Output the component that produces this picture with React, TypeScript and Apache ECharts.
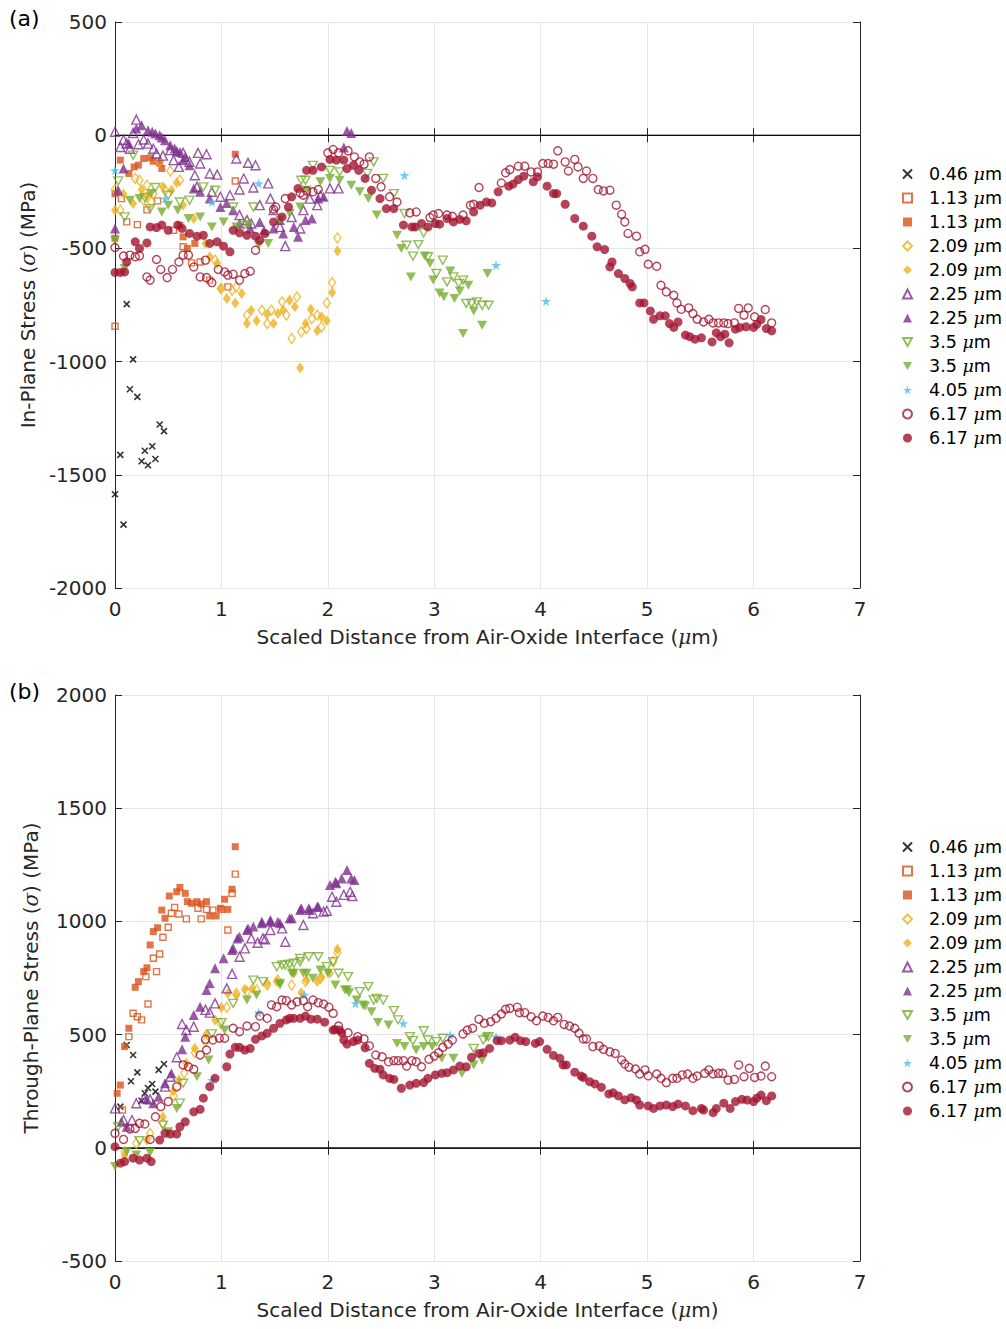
import React, { useEffect, useRef } from "react";
import * as echarts from "echarts";

// ---------- Panel (a): in-plane stress ----------
const a046 = [[0,-1586],[0.08,-1720],[0.05,-1412],[0.11,-746],[0.14,-1122],[0.17,-990],[0.21,-1156],[0.25,-1440],[0.28,-1394],[0.31,-1458],[0.35,-1374],[0.38,-1430],[0.42,-1278],[0.46,-1307]];
const a113o = [[0,-844],[0.06,-280],[0.11,-383],[0.21,-395],[0.3,-330],[0.4,-290],[0.55,-420],[0.64,-493],[0.72,-564],[0.8,-560],[0.89,-640],[1.06,-670],[1.13,-202]];
const a113f = [[0,-258],[0,-455],[0.05,-110],[0.13,-169],[0.18,-140],[0.22,-132],[0.27,-103],[0.33,-100],[0.36,-115],[0.42,-124],[0.44,-147],[0.61,-398],[0.64,-449],[0.68,-500],[0.75,-478],[1.13,-84]];
const a209o = [[0,-239],[0.05,-331],[0.19,-191],[0.23,-199],[0.27,-287],[0.3,-221],[0.34,-295],[0.36,-258],[0.42,-118],[0.47,-243],[0.52,-158],[0.61,-199],[0.94,-552],[1.0,-677],[1.1,-685],[1.14,-670],[1.24,-795],[1.38,-773],[1.43,-832],[1.47,-773],[1.57,-736],[1.61,-795],[1.66,-898],[1.71,-714],[1.75,-869],[1.8,-854],[1.85,-810],[1.9,-795],[1.94,-847],[1.99,-741],[2.04,-651],[2.09,-454]];
const a209f = [[0,-331],[0.08,-260],[0.17,-302],[0.25,-240],[0.3,-270],[0.45,-228],[0.53,-243],[0.58,-210],[0.64,-309],[0.74,-368],[0.85,-478],[0.89,-537],[0.96,-567],[0.99,-677],[1.05,-721],[1.13,-741],[1.19,-699],[1.24,-832],[1.28,-773],[1.33,-820],[1.43,-791],[1.49,-832],[1.53,-788],[1.58,-773],[1.64,-729],[1.69,-758],[1.74,-1028],[1.79,-832],[1.84,-769],[1.9,-864],[1.94,-802],[1.99,-820],[2.04,-695],[2.09,-511]];
const a225o = [[0,15],[0.05,-52],[0.08,-20],[0.11,-37],[0.14,-60],[0.17,10],[0.2,69],[0.22,-40],[0.27,-19],[0.31,-37],[0.36,-60],[0.39,-81],[0.45,-90],[0.52,-66],[0.55,-110],[0.6,-140],[0.64,-78],[0.7,-118],[0.75,-177],[0.77,-228],[0.78,-78],[0.8,-125],[0.86,-84],[0.89,-169],[0.91,-250],[0.96,-174],[0.99,-272],[1.08,-265],[1.14,-103],[1.17,-240],[1.17,-353],[1.21,-191],[1.24,-375],[1.25,-122],[1.28,-390],[1.3,-231],[1.32,-133],[1.36,-309],[1.44,-213],[1.46,-280],[1.49,-331],[1.55,-405],[1.6,-490],[1.66,-361],[1.74,-412],[1.77,-331],[1.83,-280],[1.9,-309],[1.93,-265],[2.02,-235],[2.1,-235]];
const a225f = [[0,-412],[0.03,-243],[0.08,-147],[0.13,-37],[0.2,30],[0.25,44],[0.31,22],[0.35,15],[0.38,7],[0.42,0],[0.44,-10],[0.47,-22],[0.52,-44],[0.56,-59],[0.58,-70],[0.61,-74],[0.64,-110],[0.66,-96],[0.7,-133],[0.74,-235],[0.8,-250],[0.89,-280],[0.99,-317],[1.05,-300],[1.11,-331],[1.17,-390],[1.27,-412],[1.36,-383],[1.4,-420],[1.49,-412],[1.55,-375],[1.58,-434],[1.68,-405],[1.72,-449],[1.79,-375],[1.85,-368],[1.91,-280],[1.96,-272],[2.15,-54],[2.18,19],[2.22,10]];
const a35o = [[0.03,-202],[0.09,-361],[0.17,-88],[0.28,-275],[0.33,-324],[0.38,-231],[0.5,-265],[0.61,-295],[0.7,-287],[0.83,-228],[0.94,-243],[1.11,-317],[1.21,-397],[1.3,-317],[1.75,-199],[1.79,-199],[1.86,-133],[2.02,-155],[2.11,-162],[2.37,-169],[2.43,-118],[2.52,-191],[2.62,-258],[2.72,-346],[2.74,-486],[2.8,-534],[2.85,-483],[2.9,-431],[2.94,-537],[3.02,-611],[3.08,-552],[3.12,-648],[3.18,-626],[3.23,-655],[3.27,-640],[3.3,-743],[3.35,-743],[3.4,-736],[3.45,-751],[3.51,-751]];
const a35f = [[0,-464],[0.09,-589],[0.14,-287],[0.23,-280],[0.34,-258],[0.44,-339],[0.5,-309],[0.59,-331],[0.69,-368],[0.8,-361],[0.91,-405],[1.02,-383],[1.14,-405],[1.25,-397],[1.35,-486],[1.44,-478],[1.55,-375],[1.64,-346],[1.74,-317],[1.8,-243],[1.93,-206],[2.02,-191],[2.11,-199],[2.22,-221],[2.3,-250],[2.38,-280],[2.46,-353],[2.65,-442],[2.69,-500],[2.78,-626],[2.91,-534],[2.96,-567],[2.99,-640],[3.05,-697],[3.09,-714],[3.15,-600],[3.19,-721],[3.24,-688],[3.27,-876],[3.32,-663],[3.37,-776],[3.45,-839],[3.5,-611]];
const a405 = [[0,-155],[0.47,-280],[0.91,-295],[1.35,-213],[2.72,-177],[3.58,-574],[4.05,-733]];
const a617o = [[0,-496],[0.08,-534],[0.14,-530],[0.19,-537],[0.23,-533],[0.3,-626],[0.33,-640],[0.39,-549],[0.43,-593],[0.49,-629],[0.54,-593],[0.6,-560],[0.64,-530],[0.69,-530],[0.74,-582],[0.8,-626],[0.85,-552],[0.86,-629],[0.91,-651],[0.97,-593],[1.03,-604],[1.06,-618],[1.11,-614],[1.17,-640],[1.22,-611],[1.27,-601],[1.32,-508],[1.49,-327],[1.51,-317],[1.6,-280],[1.74,-255],[1.77,-265],[1.8,-246],[1.86,-250],[1.91,-240],[2.0,-78],[2.05,-63],[2.1,-78],[2.19,-69],[2.25,-96],[2.3,-118],[2.34,-128],[2.39,-96],[2.45,-191],[2.5,-228],[2.58,-272],[2.65,-295],[2.77,-343],[2.83,-339],[2.96,-364],[2.99,-353],[3.04,-346],[3.12,-353],[3.17,-358],[3.27,-353],[3.34,-309],[3.37,-305],[3.42,-231],[3.63,-211],[3.67,-166],[3.71,-152],[3.79,-137],[3.85,-137],[3.91,-162],[3.97,-162],[4.02,-125],[4.07,-125],[4.12,-128],[4.16,-69],[4.23,-118],[4.26,-158],[4.32,-107],[4.35,-140],[4.4,-191],[4.43,-158],[4.49,-191],[4.54,-240],[4.59,-246],[4.65,-243],[4.71,-309],[4.76,-349],[4.79,-383],[4.82,-434],[4.9,-446],[4.93,-515],[4.98,-504],[5.01,-570],[5.09,-579],[5.13,-663],[5.18,-692],[5.25,-707],[5.28,-741],[5.32,-769],[5.39,-763],[5.43,-788],[5.47,-813],[5.53,-825],[5.58,-813],[5.62,-829],[5.67,-829],[5.72,-829],[5.76,-832],[5.82,-829],[5.86,-765],[5.91,-795],[5.95,-763],[6.01,-802],[6.11,-770],[6.17,-829]];
const a617f = [[0,-606],[0.05,-606],[0.09,-604],[0.11,-560],[0.19,-471],[0.23,-500],[0.3,-476],[0.33,-405],[0.39,-408],[0.44,-397],[0.5,-420],[0.59,-397],[0.63,-412],[0.7,-434],[0.77,-446],[0.83,-442],[0.89,-478],[0.96,-471],[1.02,-490],[1.08,-515],[1.11,-420],[1.17,-431],[1.24,-442],[1.32,-446],[1.36,-464],[1.41,-434],[1.49,-383],[1.57,-361],[1.63,-317],[1.66,-272],[1.72,-235],[1.8,-155],[1.86,-155],[1.94,-140],[2.02,-107],[2.08,-110],[2.15,-110],[2.18,-147],[2.24,-133],[2.29,-155],[2.35,-191],[2.41,-243],[2.49,-280],[2.55,-324],[2.62,-324],[2.71,-397],[2.79,-405],[2.82,-405],[2.88,-390],[2.94,-405],[3.01,-390],[3.05,-393],[3.12,-368],[3.18,-383],[3.24,-372],[3.3,-378],[3.37,-339],[3.43,-309],[3.49,-295],[3.54,-299],[3.6,-250],[3.7,-225],[3.74,-216],[3.79,-196],[3.84,-181],[3.93,-206],[3.97,-184],[4.06,-225],[4.12,-258],[4.15,-258],[4.23,-305],[4.32,-368],[4.4,-402],[4.48,-446],[4.53,-493],[4.6,-505],[4.65,-582],[4.67,-560],[4.73,-611],[4.79,-633],[4.84,-655],[4.86,-670],[4.93,-741],[4.97,-741],[5.03,-776],[5.06,-813],[5.12,-798],[5.17,-798],[5.21,-832],[5.25,-849],[5.29,-825],[5.36,-883],[5.4,-890],[5.45,-901],[5.51,-895],[5.61,-913],[5.65,-873],[5.69,-890],[5.73,-879],[5.77,-917],[5.83,-857],[5.87,-849],[5.93,-846],[6.0,-849],[6.03,-835],[6.07,-814],[6.12,-854],[6.17,-864]];

// ---------- Panel (b): through-plane stress ----------
const b046 = [[0.05,182],[0.11,454],[0.15,294],[0.17,410],[0.21,333],[0.25,208],[0.28,241],[0.31,264],[0.35,282],[0.38,248],[0.41,344],[0.46,370]];
const b113o = [[0.07,167],[0.13,491],[0.17,594],[0.21,579],[0.25,565],[0.29,756],[0.31,635],[0.36,837],[0.39,778],[0.42,856],[0.45,930],[0.5,974],[0.53,1036],[0.56,1062],[0.6,1033],[0.67,1011],[0.78,1058],[0.81,1011],[0.86,1053],[0.92,1050],[1.0,1053],[1.06,962],[1.1,1124],[1.13,1209]];
const b113f = [[0.02,241],[0.05,277],[0.09,447],[0.13,528],[0.19,709],[0.22,734],[0.27,778],[0.3,795],[0.33,896],[0.36,955],[0.4,972],[0.44,1050],[0.47,1014],[0.51,1112],[0.58,1131],[0.61,1150],[0.66,1124],[0.68,1087],[0.72,1080],[0.77,1087],[0.81,1077],[0.86,1087],[0.89,1024],[0.95,1024],[0.99,1058],[1.03,1098],[1.06,1053],[1.1,1142],[1.13,1330]];
const b209o = [[0.09,-17],[0.2,20],[0.33,64],[0.45,110],[0.55,230],[0.65,330],[0.75,420],[0.85,470],[0.99,550],[1.05,620],[1.14,682],[1.24,690],[1.33,697],[1.43,719],[1.53,741],[1.66,719],[1.79,734],[1.93,749],[2.05,822],[2.09,862]];
const b209f = [[0.09,-32],[0.3,34],[0.45,137],[0.55,250],[0.6,299],[0.67,373],[0.75,440],[0.86,503],[0.94,565],[1.0,620],[1.06,682],[1.14,675],[1.22,700],[1.29,704],[1.43,727],[1.52,734],[1.68,771],[1.75,685],[1.8,741],[1.9,734],[1.94,756],[2.02,771],[2.09,877]];
const b225o = [[0,174],[0.08,123],[0.16,123],[0.2,197],[0.27,219],[0.33,214],[0.47,270],[0.52,314],[0.58,400],[0.63,547],[0.67,520],[0.74,535],[0.85,609],[0.89,597],[0.94,638],[1.05,704],[1.1,768],[1.17,844],[1.22,881],[1.28,925],[1.34,906],[1.39,925],[1.41,921],[1.46,962],[1.57,969],[1.6,910],[1.77,984],[1.86,1036],[1.96,1043],[1.99,1047],[2.04,1109],[2.08,1087],[2.15,1117],[2.21,1131],[2.23,1112]];
const b225f = [[0.06,115],[0.11,93],[0.3,214],[0.36,197],[0.41,226],[0.47,285],[0.53,329],[0.63,435],[0.66,491],[0.74,587],[0.8,623],[0.86,697],[0.89,727],[0.94,793],[1.02,837],[1.1,874],[1.11,881],[1.15,925],[1.17,932],[1.24,962],[1.25,969],[1.3,977],[1.38,992],[1.38,999],[1.46,999],[1.46,1006],[1.53,999],[1.55,992],[1.64,1014],[1.66,1014],[1.74,1050],[1.75,1058],[1.82,1058],[1.83,1050],[1.9,1065],[1.91,1065],[2.02,1161],[2.07,1175],[2.08,1168],[2.13,1190],[2.18,1227],[2.22,1190],[2.25,1183]];
const b35o = [[0.03,93],[0.23,31],[0.45,100],[0.61,197],[0.64,285],[0.91,503],[1.0,553],[1.11,638],[1.3,741],[1.39,734],[1.52,800],[1.57,807],[1.6,807],[1.64,811],[1.68,815],[1.74,822],[1.74,837],[1.82,844],[1.91,844],[1.99,800],[2.05,822],[2.1,771],[2.19,756],[2.3,690],[2.38,712],[2.43,653],[2.46,660],[2.52,653],[2.62,606],[2.66,565],[2.77,491],[2.8,473],[2.9,517],[2.94,476],[3.02,469],[3.08,484],[3.37,439],[3.46,476],[3.51,491]];
const b35f = [[0,-83],[0.11,-17],[0.2,-32],[0.33,-21],[0.5,71],[0.58,174],[0.77,314],[0.88,388],[1.03,520],[1.24,653],[1.33,675],[1.55,719],[1.55,727],[1.66,771],[1.68,771],[1.77,771],[1.8,771],[1.86,749],[1.93,785],[2.0,771],[2.07,719],[2.16,697],[2.18,697],[2.2,685],[2.27,653],[2.33,631],[2.35,626],[2.41,601],[2.47,553],[2.57,542],[2.65,461],[2.72,447],[2.83,432],[2.9,447],[2.98,447],[3.07,395],[3.18,395],[3.26,329],[3.37,366],[3.45,388],[3.49,488]];
const b405 = [[0.91,299],[1.35,597],[1.78,675],[2.26,638],[2.71,550],[3.15,498],[3.58,491]];
const b617o = [[0,64],[0.08,37],[0.14,83],[0.19,86],[0.23,108],[0.28,105],[0.33,37],[0.38,137],[0.43,182],[0.5,204],[0.58,270],[0.64,366],[0.69,358],[0.74,347],[0.8,410],[0.85,479],[0.86,432],[0.92,476],[0.98,484],[1.03,484],[1.11,528],[1.17,513],[1.24,538],[1.32,535],[1.36,582],[1.43,572],[1.47,631],[1.52,623],[1.57,653],[1.61,650],[1.66,631],[1.71,645],[1.77,650],[1.81,623],[1.86,653],[1.91,641],[1.96,635],[2.01,621],[2.05,594],[2.1,538],[2.19,508],[2.28,491],[2.34,481],[2.39,450],[2.45,410],[2.51,402],[2.57,380],[2.62,385],[2.66,385],[2.71,385],[2.74,361],[2.79,385],[2.83,380],[2.88,358],[2.95,391],[3.0,405],[3.04,420],[3.08,444],[3.13,458],[3.17,476],[3.27,503],[3.31,520],[3.36,528],[3.42,568],[3.47,550],[3.53,557],[3.58,572],[3.63,591],[3.67,612],[3.71,616],[3.78,621],[3.8,597],[3.85,597],[3.91,579],[3.96,561],[4.02,582],[4.07,576],[4.12,561],[4.16,576],[4.22,545],[4.27,538],[4.32,528],[4.36,506],[4.4,481],[4.43,481],[4.49,447],[4.55,450],[4.59,435],[4.65,424],[4.7,417],[4.76,388],[4.79,370],[4.83,356],[4.89,348],[4.93,326],[4.98,344],[5.01,318],[5.09,326],[5.13,307],[5.18,288],[5.24,307],[5.28,307],[5.33,322],[5.38,326],[5.43,307],[5.47,317],[5.54,329],[5.58,344],[5.62,326],[5.67,329],[5.71,329],[5.76,299],[5.82,302],[5.86,366],[5.91,314],[5.96,351],[6.01,311],[6.07,317],[6.11,361],[6.17,314]];
const b617f = [[0,5],[0.05,-68],[0.09,-61],[0.17,-46],[0.23,-54],[0.3,-46],[0.34,-61],[0.42,34],[0.47,64],[0.52,61],[0.58,61],[0.61,93],[0.66,115],[0.74,159],[0.8,170],[0.83,219],[0.89,270],[0.94,307],[1.05,358],[1.08,414],[1.13,444],[1.17,444],[1.22,432],[1.27,439],[1.32,479],[1.38,494],[1.43,506],[1.49,528],[1.55,550],[1.61,565],[1.64,572],[1.68,572],[1.74,572],[1.79,582],[1.84,568],[1.9,568],[1.97,555],[2.05,520],[2.07,523],[2.11,520],[2.13,508],[2.15,476],[2.18,458],[2.24,469],[2.28,476],[2.35,442],[2.39,373],[2.44,351],[2.49,347],[2.52,322],[2.58,307],[2.62,302],[2.69,263],[2.77,277],[2.83,285],[2.9,288],[2.94,307],[3.01,322],[3.07,329],[3.12,332],[3.18,344],[3.24,361],[3.3,358],[3.35,400],[3.42,417],[3.46,420],[3.52,439],[3.59,473],[3.63,473],[3.71,476],[3.76,488],[3.81,473],[3.86,469],[3.95,461],[3.99,469],[4.06,435],[4.12,408],[4.18,395],[4.21,366],[4.24,366],[4.32,334],[4.38,317],[4.4,311],[4.46,292],[4.51,282],[4.57,267],[4.64,238],[4.68,243],[4.73,229],[4.79,212],[4.85,221],[4.9,211],[4.93,189],[5.01,185],[5.06,174],[5.12,185],[5.18,189],[5.24,182],[5.29,193],[5.36,185],[5.43,164],[5.51,174],[5.53,167],[5.62,155],[5.65,174],[5.72,197],[5.78,174],[5.83,204],[5.89,214],[5.94,211],[6.0,204],[6.03,219],[6.07,233],[6.12,208],[6.17,229]];

// ---------- series definitions (legend labels / markers) ----------
const seriesLabels = ["0.46", "1.13", "1.13", "2.09", "2.09", "2.25", "2.25", "3.5", "3.5", "4.05", "6.17", "6.17"];
const seriesKeys = ["046", "113o", "113f", "209o", "209f", "225o", "225f", "35o", "35f", "405", "617o", "617f"];
const panelAData = [a046, a113o, a113f, a209o, a209f, a225o, a225f, a35o, a35f, a405, a617o, a617f];
const panelBData = [b046, b113o, b113f, b209o, b209f, b225o, b225f, b35o, b35f, b405, b617o, b617f];

const xTicks = { min: 0, max: 7, interval: 1 };
const yTicksA = { min: -2000, max: 500, interval: 500 };
const yTicksB = { min: -500, max: 2000, interval: 500 };

const FONT = "DejaVu Sans";
const AX = "#262626";
const CROSS = "path://M0,0L10,10M10,0L0,10";
const STAR = "path://M50,0L61,35L98,35L68,57L79,91L50,70L21,91L32,57L2,35L39,35Z";
const TRI_DOWN = "path://M0,0L10,0L5,9Z";

type Style = { symbol: string; size: number | number[]; color: string; filled: boolean };
const styles: Style[] = [
  { symbol: CROSS, size: 6, color: "#000000", filled: false },
  { symbol: "rect", size: 6, color: "#D95319", filled: false },
  { symbol: "rect", size: 7, color: "#D95319", filled: true },
  { symbol: "diamond", size: [7, 10], color: "#EDB120", filled: false },
  { symbol: "diamond", size: [8, 11], color: "#EDB120", filled: true },
  { symbol: "triangle", size: 9, color: "#7E2F8E", filled: false },
  { symbol: "triangle", size: 10, color: "#7E2F8E", filled: true },
  { symbol: TRI_DOWN, size: [9, 8], color: "#77AC30", filled: false },
  { symbol: TRI_DOWN, size: [10, 9], color: "#77AC30", filled: true },
  { symbol: STAR, size: 10, color: "#4DBEEE", filled: true },
  { symbol: "circle", size: 8, color: "#A2142F", filled: false },
  { symbol: "circle", size: 9, color: "#A2142F", filled: true },
];

function buildSeries(prefix: string, datas: number[][][], axisIndex: number) {
  return datas.map((d, i) => {
    const st = styles[i];
    const isCross = st.symbol === CROSS;
    return {
      name: prefix + seriesKeys[i],
      type: "scatter",
      xAxisIndex: axisIndex,
      yAxisIndex: axisIndex,
      data: d,
      symbol: st.symbol,
      symbolSize: st.size,
      itemStyle: isCross
        ? { color: "rgba(0,0,0,0)", borderColor: st.color, borderWidth: 1.6 }
        : st.filled
        ? { color: st.color, borderColor: st.color, borderWidth: 0 }
        : { color: "rgba(255,255,255,0)", borderColor: st.color, borderWidth: 1.4 },
      emphasis: { disabled: true },
      z: 3,
    };
  });
}

function zeroLine(axisIndex: number) {
  return {
    type: "line",
    xAxisIndex: axisIndex,
    yAxisIndex: axisIndex,
    data: [[xTicks.min, 0], [xTicks.max, 0]],
    symbol: "none",
    silent: true,
    lineStyle: { color: "#000", width: 1 },
    z: 2,
  };
}

function legendLabel(name: string) {
  const key = name.slice(1);
  const idx = seriesKeys.indexOf(key);
  return seriesLabels[idx] + " {i|μ}m";
}

const italic = { fontFamily: "DejaVu Serif", fontStyle: "italic" };

function xAxes(grid: number) {
  const base = { gridIndex: grid, type: "value", ...xTicks };
  return [
    {
      ...base,
      position: "bottom",
      axisLine: { show: true, lineStyle: { color: AX, width: 1 } },
      axisTick: { show: true, inside: true, length: 7, lineStyle: { color: AX } },
      axisLabel: { color: AX, fontSize: 20, fontFamily: FONT, margin: 11, formatter: (v: number) => String(v) },
      splitLine: { show: true, lineStyle: { color: "#e6e6e6", width: 1 } },
      name: "Scaled Distance from Air-Oxide Interface ({i|μ}m)",
      nameLocation: "middle",
      nameGap: 39,
      nameTextStyle: { color: AX, fontSize: 20, fontFamily: FONT, rich: { i: { ...italic, fontSize: 20, color: AX } } },
    },
    {
      ...base,
      position: "top",
      axisLine: { show: true, lineStyle: { color: AX, width: 1 } },
      axisTick: { show: true, inside: true, length: 7, lineStyle: { color: AX } },
      axisLabel: { show: false },
      splitLine: { show: false },
    },
  ];
}

function yAxes(grid: number, ticks: any, title: string) {
  const base = { gridIndex: grid, type: "value", ...ticks };
  return [
    {
      ...base,
      position: "left",
      axisLine: { show: true, onZero: false, lineStyle: { color: AX, width: 1 } },
      axisTick: { show: true, inside: true, length: 7, lineStyle: { color: AX } },
      axisLabel: { color: AX, fontSize: 20, fontFamily: FONT, margin: 8, formatter: (v: number) => String(v) },
      splitLine: { show: true, lineStyle: { color: "#e6e6e6", width: 1 } },
      name: title,
      nameLocation: "middle",
      nameGap: 74,
      nameTextStyle: { color: AX, fontSize: 20, fontFamily: FONT, rich: { i: { ...italic, fontSize: 20, color: AX } } },
    },
    {
      ...base,
      position: "right",
      axisLine: { show: true, onZero: false, lineStyle: { color: AX, width: 1 } },
      axisTick: { show: true, inside: true, length: 7, lineStyle: { color: AX } },
      axisLabel: { show: false },
      splitLine: { show: false },
    },
  ];
}

function legend(prefix: string, top: number) {
  return {
    orient: "vertical",
    left: 897,
    top,
    itemWidth: 9,
    itemHeight: 9,
    itemGap: 6,
    selectedMode: false,
    data: seriesKeys.map((k) => prefix + k),
    formatter: legendLabel,
    textStyle: {
      fontSize: 17.5,
      fontFamily: FONT,
      color: "#000",
      padding: [0, 0, 0, 12],
      rich: { i: { ...italic, fontSize: 17.5, color: "#000" } },
    },
  };
}

export default function App() {
  const ref = useRef<HTMLDivElement>(null);
  useEffect(() => {
    if (!ref.current) return;
    const chart = echarts.init(ref.current, null, { renderer: "svg" });
    const xa = xAxes(0);
    const xb = xAxes(1);
    const ya = yAxes(0, yTicksA, "In-Plane Stress ({i|σ}) (MPa)");
    const yb = yAxes(1, yTicksB, "Through-Plane Stress ({i|σ}) (MPa)");
    chart.setOption({
      animation: false,
      backgroundColor: "#fff",
      grid: [
        { left: 115, top: 22, width: 745, height: 566 },
        { left: 115, top: 695, width: 745, height: 566 },
      ],
      xAxis: [xa[0], xa[1], { ...xb[0], gridIndex: 1 }, { ...xb[1], gridIndex: 1 }],
      yAxis: [ya[0], ya[1], { ...yb[0], gridIndex: 1 }, { ...yb[1], gridIndex: 1 }],
      legend: [legend("a", 160), legend("b", 833)],
      graphic: [
        { type: "text", left: 9, top: 7, style: { text: "(a)", fontSize: 22, fontFamily: FONT, fill: "#000" } },
        { type: "text", left: 9, top: 680, style: { text: "(b)", fontSize: 22, fontFamily: FONT, fill: "#000" } },
      ],
      series: [
        zeroLine(0),
        ...buildSeries("a", panelAData, 0),
        zeroLine(2),
        ...buildSeries("b", panelBData, 2),
      ],
    });
    return () => chart.dispose();
  }, []);
  return <div ref={ref} style={{ position: "absolute", left: 0, top: 0, width: 1006, height: 1329 }} />;
}
